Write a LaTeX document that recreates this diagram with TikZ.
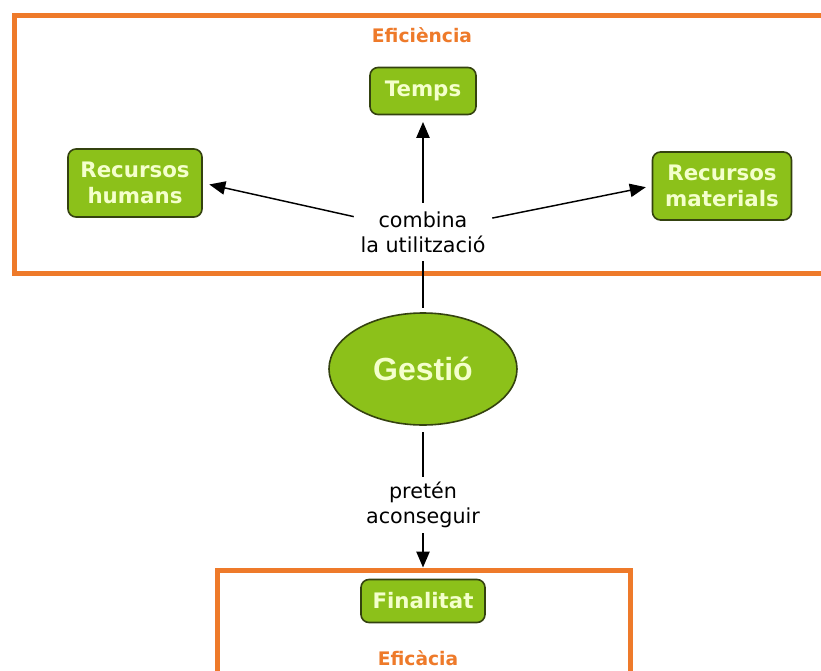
\documentclass[tikz,border=0pt]{standalone}
\usepackage{fontspec}
\setmainfont{DejaVu Sans}
\newfontfamily\arialfont{Liberation Sans}
\usetikzlibrary{arrows.meta,shapes.geometric}
\definecolor{cgreen}{HTML}{8CC11A}
\definecolor{cborder}{HTML}{34420F}
\definecolor{ctext}{HTML}{F4FFCC}
\definecolor{corange}{HTML}{EE7A2A}
\tikzset{
  concept/.style={rounded corners=6pt, fill=cgreen, draw=cborder, line width=1.2pt,
    text=ctext, font=\bfseries\fontsize{16}{20}\selectfont, align=center, inner sep=0pt},
  frame/.style={draw=corange, line width=3.75pt, inner sep=0pt},
  framelabel/.style={text=corange, font=\bfseries\fontsize{14}{16}\selectfont},
  linklabel/.style={font=\fontsize{15.5}{19}\selectfont, align=center, inner sep=0pt},
  link/.style={line width=1.1pt, draw=black},
  arrowlink/.style={link, -{Triangle[length=12pt,width=10pt]}}
}
\begin{document}
\begin{tikzpicture}[x=0.75pt,y=-0.75pt]
\useasboundingbox (0,0) rectangle (821,671);
\clip (0,0) rectangle (821,671);
\fill[white] (0,0) rectangle (821,671);
% frames
\node[frame, minimum width=615.75pt, minimum height=193.5pt] (topbox) at (424.5,144) {};
\node[frame, minimum width=309.75pt, minimum height=90pt] (botbox) at (423.5,630) {};
\node[framelabel] (eficiencia) at (422,35) {Eficiència};
\node[framelabel] (eficacia) at (418,658) {Eficàcia};
% concepts
\node[concept, minimum width=79.5pt, minimum height=35.25pt] (temps) at (423,91) {Temps};
\node[concept, minimum width=100.5pt, minimum height=51pt] (rh) at (135,183) {Recursos\\humans};
\node[concept, minimum width=104.25pt, minimum height=51pt] (rm) at (722,186) {Recursos\\materials};
\node[concept, minimum width=93pt, minimum height=32.25pt] (finalitat) at (423,601) {Finalitat};
\node[ellipse, fill=cgreen, draw=cborder, line width=1.2pt, text=ctext,
      font=\arialfont\bfseries\fontsize{24}{26}\selectfont,
      minimum width=141pt, minimum height=84pt, inner sep=0pt] (gestio) at (423,369) {Gestió};
% link labels
\node[linklabel, minimum width=103.5pt, minimum height=43.5pt] (combina) at (423,232) {combina\\la utilització};
\node[linklabel, minimum width=80pt, minimum height=42pt] (preten) at (423,505) {pretén\\aconseguir};
% connectors
\draw[arrowlink, shorten >=5pt] (combina) -- (temps);
\draw[arrowlink, shorten >=5pt] (combina) -- (rh.east);
\draw[arrowlink, shorten >=4.5pt] (combina) -- (rm.west);
\draw[link, shorten >=3.5pt] (combina) -- (gestio);
\draw[link, shorten <=5pt] (gestio) -- (preten);
\draw[arrowlink] (preten) -- (preten |- botbox.north);
\end{tikzpicture}
\end{document}
